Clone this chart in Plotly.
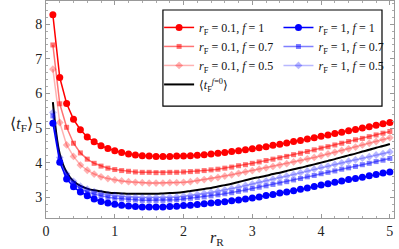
import plotly.graph_objects as go

r_R = [round(0.1 * i, 1) for i in range(1, 51)]

t_r01_f1 = [8.27, 6.46, 5.71, 5.25, 4.95, 4.74, 4.60, 4.49, 4.41, 4.34,
            4.29, 4.25, 4.22, 4.20, 4.19, 4.18, 4.18, 4.18, 4.19, 4.19,
            4.20, 4.21, 4.23, 4.25, 4.27, 4.29, 4.32, 4.34, 4.37, 4.40,
            4.43, 4.46, 4.50, 4.53, 4.57, 4.61, 4.64, 4.68, 4.72, 4.76,
            4.80, 4.84, 4.88, 4.92, 4.96, 5.00, 5.04, 5.08, 5.12, 5.16]
t_r01_f07 = [7.40, 5.70, 5.02, 4.56, 4.28, 4.10, 3.98, 3.90, 3.84, 3.80,
             3.77, 3.75, 3.73, 3.72, 3.72, 3.71, 3.71, 3.72, 3.72, 3.73,
             3.74, 3.75, 3.77, 3.79, 3.81, 3.84, 3.87, 3.91, 3.94, 3.98,
             4.02, 4.06, 4.10, 4.14, 4.18, 4.23, 4.27, 4.32, 4.37, 4.42,
             4.46, 4.51, 4.56, 4.61, 4.66, 4.70, 4.75, 4.80, 4.85, 4.90]
t_r01_f05 = [6.70, 5.16, 4.51, 4.18, 3.93, 3.78, 3.67, 3.59, 3.54, 3.50,
             3.47, 3.45, 3.43, 3.42, 3.41, 3.41, 3.41, 3.42, 3.42, 3.43,
             3.45, 3.48, 3.51, 3.54, 3.57, 3.61, 3.65, 3.69, 3.73, 3.77,
             3.81, 3.85, 3.89, 3.93, 3.97, 4.02, 4.06, 4.11, 4.15, 4.20,
             4.25, 4.30, 4.35, 4.40, 4.45, 4.51, 4.56, 4.61, 4.67, 4.72]
t_r1_f1 = [5.14, 4.01, 3.53, 3.30, 3.15, 3.04, 2.95, 2.88, 2.83, 2.80,
           2.77, 2.75, 2.73, 2.72, 2.72, 2.72, 2.72, 2.73, 2.74, 2.76,
           2.77, 2.79, 2.81, 2.83, 2.85, 2.87, 2.90, 2.92, 2.95, 2.98,
           3.01, 3.05, 3.08, 3.12, 3.15, 3.19, 3.23, 3.27, 3.31, 3.35,
           3.39, 3.43, 3.47, 3.51, 3.54, 3.58, 3.62, 3.66, 3.70, 3.73]
t_r1_f07 = [5.35, 4.08, 3.62, 3.40, 3.25, 3.15, 3.09, 3.04, 3.00, 2.97,
            2.95, 2.93, 2.92, 2.91, 2.91, 2.91, 2.91, 2.92, 2.93, 2.95,
            2.97, 2.99, 3.01, 3.04, 3.07, 3.10, 3.13, 3.17, 3.21, 3.25,
            3.29, 3.33, 3.37, 3.41, 3.45, 3.50, 3.54, 3.59, 3.63, 3.68,
            3.72, 3.76, 3.81, 3.85, 3.89, 3.94, 3.98, 4.03, 4.07, 4.12]
t_r1_f05 = [5.45, 4.15, 3.68, 3.46, 3.32, 3.23, 3.16, 3.11, 3.07, 3.05,
            3.03, 3.01, 3.00, 2.99, 2.99, 2.99, 2.99, 3.00, 3.01, 3.03,
            3.05, 3.08, 3.11, 3.14, 3.17, 3.21, 3.25, 3.29, 3.34, 3.38,
            3.43, 3.47, 3.52, 3.57, 3.61, 3.66, 3.71, 3.76, 3.81, 3.86,
            3.90, 3.95, 3.99, 4.04, 4.08, 4.13, 4.17, 4.22, 4.26, 4.31]
t_f0 = [5.75, 4.25, 3.72, 3.46, 3.33, 3.25, 3.20, 3.17, 3.14, 3.12,
        3.11, 3.10, 3.10, 3.10, 3.10, 3.10, 3.11, 3.12, 3.13, 3.15,
        3.18, 3.21, 3.24, 3.27, 3.31, 3.35, 3.39, 3.44, 3.49, 3.54,
        3.58, 3.62, 3.67, 3.71, 3.76, 3.81, 3.85, 3.90, 3.95, 4.00,
        4.05, 4.10, 4.16, 4.21, 4.26, 4.32, 4.37, 4.43, 4.48, 4.54]

x_ticks = [0, 1, 2, 3, 4, 5]
y_ticks = [3, 4, 5, 6, 7, 8]

FONT = "Liberation Serif, DejaVu Serif, serif"

def lbl(rf, f):
    return f"<i>r</i><sub>F</sub> = {rf}, <i>f</i> = {f}"

fig = go.Figure()

red_series = [
    (t_r01_f1, "0.1", "1", "rgb(255,0,0)", "circle", 7),
    (t_r01_f07, "0.1", "0.7", "rgba(255,0,0,0.55)", "square", 5),
    (t_r01_f05, "0.1", "0.5", "rgba(255,0,0,0.3)", "diamond", 6),
]
blue_series = [
    (t_r1_f1, "1", "1", "rgb(0,0,255)", "circle", 7),
    (t_r1_f07, "1", "0.7", "rgba(0,0,255,0.5)", "square", 5),
    (t_r1_f05, "1", "0.5", "rgba(0,0,255,0.28)", "diamond", 6),
]

for i, (ys, rf, f, col, sym, sz) in enumerate(red_series):
    fig.add_trace(go.Scatter(x=r_R, y=ys, mode="lines+markers", name=lbl(rf, f),
                             line=dict(color=col, width=1.5),
                             marker=dict(color=col, symbol=sym, size=sz),
                             legend="legend", legendgroup=f"r{i}"))

fig.add_trace(go.Scatter(x=r_R, y=t_f0, mode="lines",
                         name="⟨<i>t</i><sub>F</sub><sup><i>f</i>=0</sup>⟩",
                         line=dict(color="black", width=2, shape="spline"),
                         legend="legend", legendgroup="black"))

for i, (ys, rf, f, col, sym, sz) in enumerate(blue_series):
    fig.add_trace(go.Scatter(x=r_R, y=ys, mode="lines+markers", name=lbl(rf, f),
                             line=dict(color=col, width=1.5),
                             marker=dict(color=col, symbol=sym, size=sz),
                             legend="legend2", legendgroup=f"b{i}"))

axis_common = dict(
    showline=True, linecolor="#999999", linewidth=1, mirror="allticks",
    ticks="inside", ticklen=4, tickcolor="#999999", tickwidth=1,
    showgrid=False, zeroline=False,
    tickfont=dict(family=FONT, size=14, color="#222222"),
    minor=dict(ticks="inside", ticklen=2, tickcolor="#aaaaaa", dtick=0.2, showgrid=False),
)

fig.update_xaxes(range=[0, 5.06], tickvals=x_ticks, **axis_common)
fig.update_yaxes(range=[2.40, 8.67], tickvals=y_ticks, **axis_common)

leg_common = dict(bgcolor="rgba(0,0,0,0)", borderwidth=0,
                  font=dict(family=FONT, size=12, color="#111111"),
                  xanchor="left", yanchor="top", itemwidth=30,
                  tracegroupgap=0)

fig.update_layout(
    width=399, height=249,
    margin=dict(l=46, r=5, t=1, b=31),
    plot_bgcolor="white", paper_bgcolor="white",
    showlegend=True,
    legend=dict(x=0.325, y=0.945, **leg_common),
    legend2=dict(x=0.668, y=0.945, **leg_common),
    shapes=[dict(type="rect", xref="paper", yref="paper",
                 x0=0.336, x1=0.9655, y0=0.516, y1=0.9585,
                 line=dict(color="black", width=1.2), fillcolor="rgba(0,0,0,0)")],
    annotations=[
        dict(text="⟨<i>t</i><sub>F</sub>⟩", xref="paper", yref="paper",
             x=-0.069, y=0.43, xanchor="center", yanchor="middle", showarrow=False,
             font=dict(family=FONT, size=16, color="#222222")),
        dict(text="<i>r</i><sub>R</sub>", xref="paper", yref="paper",
             x=0.491, y=-0.095, xanchor="center", yanchor="middle", showarrow=False,
             font=dict(family=FONT, size=16, color="#222222")),
    ],
)

fig.write_html("out.html", config={"displayModeBar": False},
               post_script="document.body.style.margin='0';document.body.style.padding='0';")
